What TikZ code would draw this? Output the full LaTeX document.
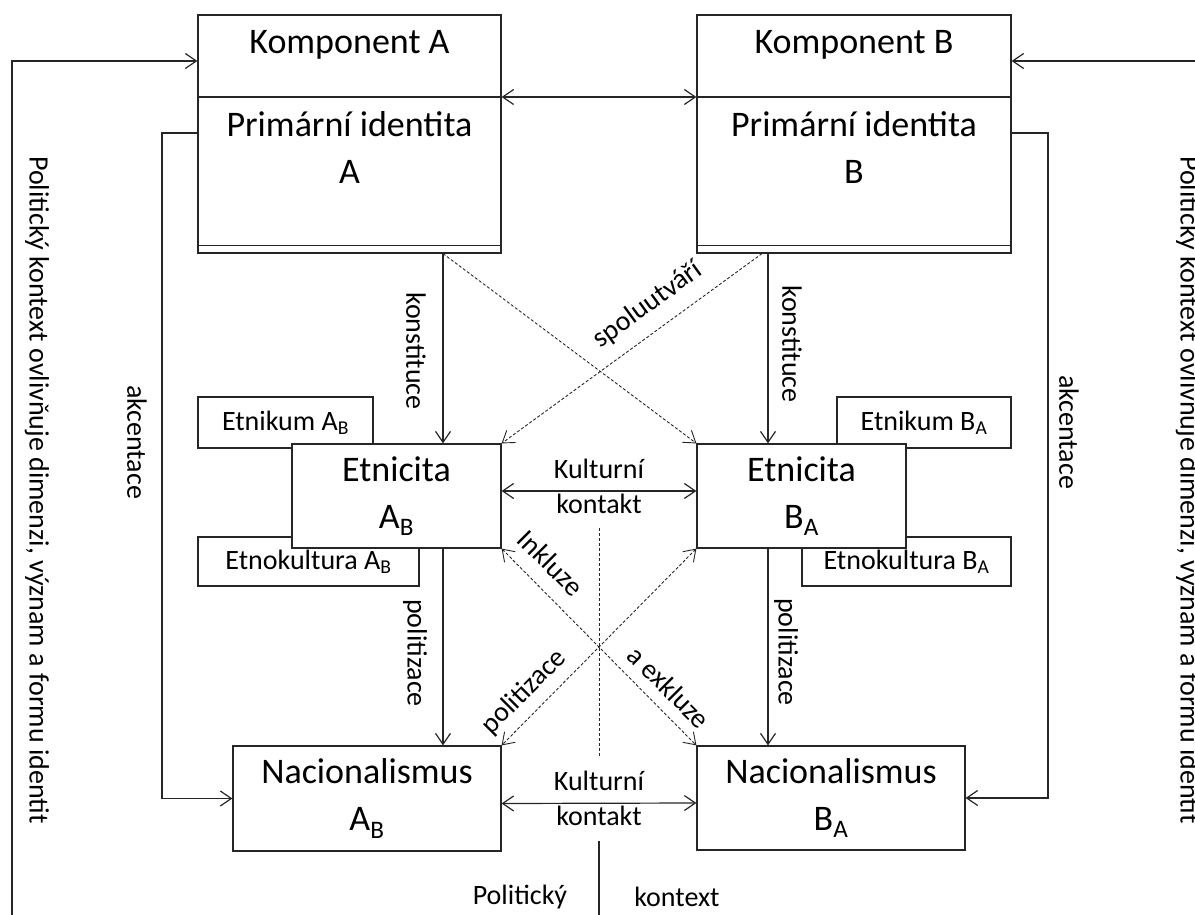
\documentclass[tikz,border=0pt]{standalone}
\usepackage{fontspec}
\setmainfont{Carlito}
\usetikzlibrary{arrows.meta}
\newcommand\bigtxt{\fontsize{36}{47}\selectfont}
\newcommand\smalltxt{\fontsize{28}{35}\selectfont}

\begin{document}
\begin{tikzpicture}[x=1pt, y=-1pt, line width=1.2pt, black!85,
    >={Straight Barb[length=11pt,width=15pt]},
    box/.style={draw, fill=white, inner sep=0pt, align=center, font=\bigtxt, text=black},
    smallbox/.style={draw, fill=white, inner sep=0pt, align=center, font=\smalltxt, text=black},
    lbl/.style={inner sep=0pt, align=center, font=\smalltxt, text=black},
    title/.style={inner sep=0pt, align=center, font=\bigtxt, text=black},
    dashedline/.style={dash pattern=on 3pt off 2pt, line width=0.9pt, black!85}]
    \clip (0,0) rectangle (1195,915);

    % Helper coordinates for rows and columns
    \coordinate (rowTop) at (0,61);
    \coordinate (rowDiv) at (0,97);
    \coordinate (rowAk)  at (0,133);
    \coordinate (colA)   at (443,0);
    \coordinate (colB)   at (768,0);
    \coordinate (dashB)  at (762,0);
    \coordinate (akL)    at (162,0);
    \coordinate (akR)    at (1048,0);
    \coordinate (outL)   at (12,915);
    \coordinate (outR)   at (1211,915);
    \coordinate (midTop) at (599,528);
    \coordinate (midBot) at (599,757);
    \coordinate (ctxTop) at (599,841);
    \coordinate (ctxBot) at (599,915);

    % Components
    \node (KompA) [box, minimum width=303pt, minimum height=238pt] at (349.5,134) {};
    \node (KompB) [box, minimum width=314pt, minimum height=238pt] at (854,134) {};
    \draw (KompA.west |- rowDiv) -- (KompA.east |- rowDiv);
    \draw (KompB.west |- rowDiv) -- (KompB.east |- rowDiv);
    \draw ([yshift=8pt]KompA.south west) -- ([yshift=8pt]KompA.south east);
    \draw ([yshift=8pt]KompB.south west) -- ([yshift=8pt]KompB.south east);
    \node (KompAname) [title] at (349.5,45)  {Komponent A};
    \node (PrimA)     [title] at (349.5,148) {Primární identita\\A};
    \node (KompBname) [title] at (854,45)    {Komponent B};
    \node (PrimB)     [title] at (854,148)   {Primární identita\\B};

    % Side boxes (behind)
    \node (EtnikumA)     [smallbox, minimum width=175pt, minimum height=51pt] at (285.5,422.5) {Etnikum A\textsubscript{B}};
    \node (EtnokulturaA) [smallbox, minimum width=221pt, minimum height=49pt] at (308.5,561.5) {Etnokultura A\textsubscript{B}};
    \node (EtnikumB)     [smallbox, minimum width=174pt, minimum height=51pt] at (924,422.5)   {Etnikum B\textsubscript{A}};
    \node (EtnokulturaB) [smallbox, minimum width=209pt, minimum height=49pt] at (906.5,561.5) {Etnokultura B\textsubscript{A}};

    % Ethnicity and nationalism
    \node (EtnA) [box, minimum width=209pt, minimum height=104pt] at (396.5,496) {Etnicita\\A\textsubscript{B}};
    \node (EtnB) [box, minimum width=209pt, minimum height=104pt] at (801.5,496) {Etnicita\\B\textsubscript{A}};
    \node (NacA) [box, minimum width=268pt, minimum height=105pt] at (367,798.5) {Nacionalismus\\A\textsubscript{B}};
    \node (NacB) [box, minimum width=268pt, minimum height=104pt] at (831,798)   {Nacionalismus\\B\textsubscript{A}};

    % Arrows
    \draw[->] (outL) -- (outL |- rowTop) -- (KompA.west |- rowTop);
    \draw[->] (outR) -- (outR |- rowTop) -- (KompB.east |- rowTop);
    \draw[<->] (KompA.east |- rowDiv) -- (KompB.west |- rowDiv);
    \draw[->] (KompA.west |- rowAk) -- (akL |- rowAk) -- (akL |- NacA.west) -- (NacA.west);
    \draw[->] (KompB.east |- rowAk) -- (akR |- rowAk) -- (akR |- NacB.east) -- (NacB.east);
    \draw[->] (KompA.south -| colA) -- (EtnA.north -| colA);
    \draw[->] (KompB.south -| colB) -- (EtnB.north -| colB);
    \draw[->] (EtnA.south -| colA) -- (NacA.north -| colA);
    \draw[->] (EtnB.south -| colB) -- (NacB.north -| colB);
    \draw[<->] ([yshift=5pt]EtnA.east) -- ([yshift=5pt]EtnB.west);
    \draw[<->] ([yshift=-5pt]NacA.east) -- ([yshift=-5pt]NacB.west);
    \draw (ctxTop) -- (ctxBot);

    % Dashed links
    \draw[->, dashedline] (KompA.south -| colA) -- (EtnB.north west);
    \draw[->, dashedline] (KompB.south -| dashB) -- (EtnA.north east);
    \draw[<->, dashedline] (EtnA.south east) -- (NacB.north west);
    \draw[<->, dashedline] (EtnB.south west) -- (NacA.north east);
    \draw[dashedline] (midTop) -- (midBot);

    % Labels
    \node (ConstA) [lbl, rotate=-90] at (416,351) {konstituce};
    \node (ConstB) [lbl, rotate=-90] at (792,344) {konstituce};
    \node (PolA)   [lbl, rotate=-90] at (415,653) {politizace};
    \node (PolB)   [lbl, rotate=-90] at (786,652) {politizace};
    \node (AkA)    [lbl, rotate=-90] at (137,442) {akcentace};
    \node (AkB)    [lbl, rotate=-90] at (1069,432) {akcentace};
    \node (Spolu)  [lbl, rotate=36]  at (648,305) {spoluutváří};
    \node (Inkl)   [lbl, rotate=-45] at (551,563) {Inkluze};
    \node (Exkl)   [lbl, rotate=-45] at (669,687) {a exkluze};
    \node (PolX)   [lbl, rotate=45]  at (524,692) {politizace};
    \node (KultTop) [lbl] at (599,486) {Kulturní\\kontakt};
    \node (KultBot) [lbl] at (599,798) {Kulturní\\kontakt};
    \node (PolCtx) [lbl] at (520,897) {Politický};
    \node (Ctx)    [lbl] at (677,897) {kontext};
    \node (CtxL) [lbl, rotate=-90] at (37,490)   {Politický kontext ovlivňuje dimenzi, význam a formu identit};
    \node (CtxR) [lbl, rotate=-90] at (1188,490) {Politický kontext ovlivňuje dimenzi, význam a formu identit};
\end{tikzpicture}
\end{document}
